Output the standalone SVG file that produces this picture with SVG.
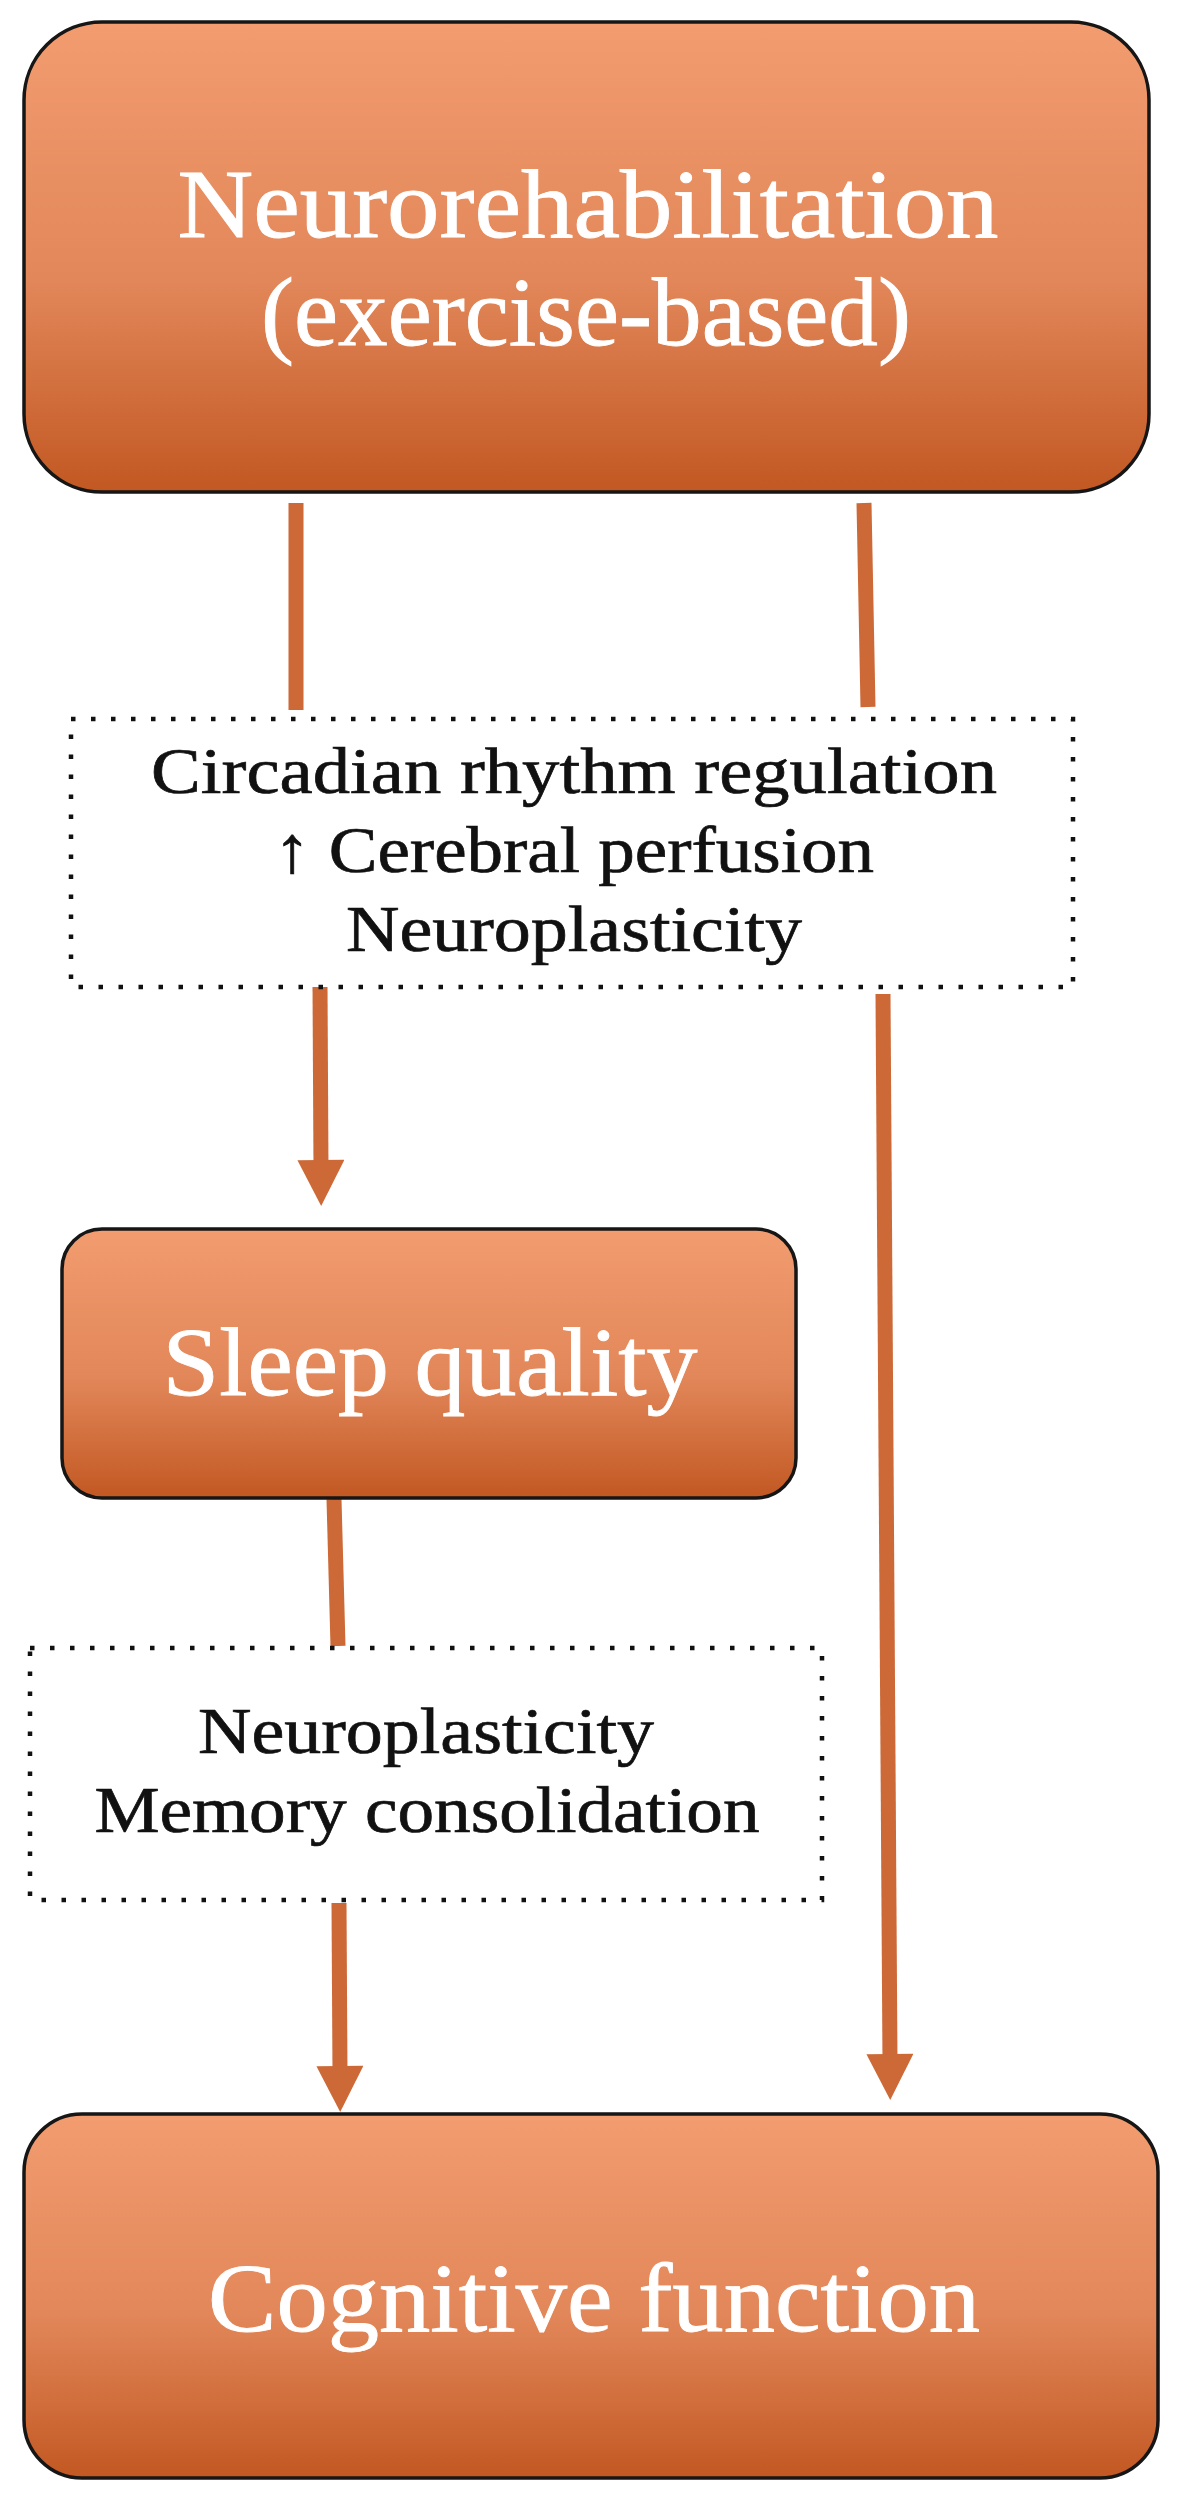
<svg xmlns="http://www.w3.org/2000/svg" width="1180" height="2503" viewBox="0 0 1180 2503">
  <style>
    .box { fill: url(#orange); stroke: #161616; stroke-width: 3.5; }
    .dot { fill: #ffffff; stroke: #111111; stroke-width: 4.5; stroke-dasharray: 4.5 15.5; }
    .big { font-family: "Liberation Serif", "Times New Roman", serif; font-size: 97px; fill: #ffffff; stroke: #ffffff; stroke-width: 0.9; text-anchor: middle; }
    .small { font-family: "Liberation Serif", "Times New Roman", serif; font-size: 66px; fill: #111111; stroke: #111111; stroke-width: 0.7; text-anchor: middle; }
    .conn { fill: none; stroke: #CD6937; stroke-width: 15; }
  </style>
  <defs>
    <linearGradient id="orange" x1="0" y1="0" x2="0" y2="1">
      <stop offset="0" stop-color="#F29C6F"/>
      <stop offset="0.55" stop-color="#E2875A"/>
      <stop offset="1" stop-color="#C25822"/>
    </linearGradient>
    <marker id="head" markerUnits="userSpaceOnUse" markerWidth="47" markerHeight="47" viewBox="0 0 46 47" refX="10" refY="23.5" orient="auto">
      <polygon points="0,0 46,23.5 0,47" fill="#CD6937"/>
    </marker>
  </defs>

  <g id="connectors">
    <path class="conn" d="M296,503 L296,710"/>
    <path class="conn" d="M864,503 L868,707"/>
    <path class="conn" d="M320,985 L321,1170" marker-end="url(#head)"/>
    <path class="conn" d="M883,994 L890,2064" marker-end="url(#head)"/>
    <path class="conn" d="M334,1499 L338,1646"/>
    <path class="conn" d="M339,1903 L340,2076" marker-end="url(#head)"/>
  </g>

  <g id="node-neurorehabilitation">
    <rect class="box" x="24" y="22" width="1125" height="470" rx="78" ry="78"/>
    <text class="big" x="588" y="237" textLength="821" lengthAdjust="spacingAndGlyphs">Neurorehabilitation</text>
    <text class="big" x="586" y="345" textLength="650" lengthAdjust="spacingAndGlyphs">(exercise-based)</text>
  </g>

  <g id="node-mechanisms-1">
    <rect class="dot" x="71" y="719" width="1002" height="268"/>
    <text class="small" x="574" y="793" textLength="846" lengthAdjust="spacingAndGlyphs">Circadian rhythm regulation</text>
    <text class="small" x="574" y="872" textLength="600" lengthAdjust="spacingAndGlyphs">↑ Cerebral perfusion</text>
    <text class="small" x="574" y="951" textLength="456" lengthAdjust="spacingAndGlyphs">Neuroplasticity</text>
  </g>

  <g id="node-sleep-quality">
    <rect class="box" x="62" y="1229" width="734" height="269" rx="40" ry="40"/>
    <text class="big" x="430" y="1395" textLength="535" lengthAdjust="spacingAndGlyphs">Sleep quality</text>
  </g>

  <g id="node-mechanisms-2">
    <rect class="dot" x="30" y="1648" width="792" height="252"/>
    <text class="small" x="426" y="1753" textLength="456" lengthAdjust="spacingAndGlyphs">Neuroplasticity</text>
    <text class="small" x="427" y="1832" textLength="665" lengthAdjust="spacingAndGlyphs">Memory consolidation</text>
  </g>

  <g id="node-cognitive-function">
    <rect class="box" x="24" y="2114" width="1134" height="364" rx="58" ry="58"/>
    <text class="big" x="594" y="2331" textLength="772" lengthAdjust="spacingAndGlyphs">Cognitive function</text>
  </g>
</svg>
